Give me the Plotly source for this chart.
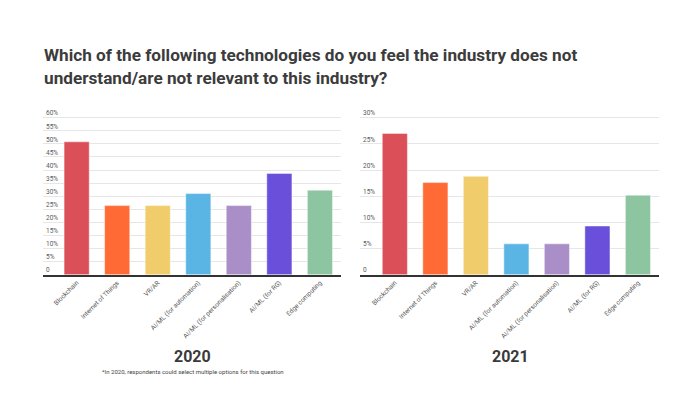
import plotly.graph_objects as go

categories = ["Blockchain", "Internet of Things", "VR/AR", "AI/ML (for automation)",
              "AI/ML (for personalisation)", "AI/ML (for RG)", "Edge computing"]
values_2020 = [50.8, 26.4, 26.4, 31.0, 26.4, 38.7, 32.3]
values_2021 = [27.0, 17.6, 18.8, 5.9, 5.9, 9.3, 15.2]
colors = ["#DB5058", "#FF6A35", "#F0CD6A", "#5BB5E4", "#A98EC8", "#6A4FDB", "#8DC5A1"]
ticks_2020 = list(range(0, 61, 5))
ticks_2021 = list(range(0, 31, 5))
tick_text_2020 = ["0" if t == 0 else f"{t}%" for t in ticks_2020]
tick_text_2021 = ["0" if t == 0 else f"{t}%" for t in ticks_2021]

W, H = 700, 396
FONT = "Roboto, Arial, sans-serif"

fig = go.Figure()
fig.add_trace(go.Bar(x=categories, y=values_2020, marker=dict(color=colors, line=dict(color="rgba(255,255,255,0.45)", width=1)),
                     xaxis="x", yaxis="y", showlegend=False, hoverinfo="x+y"))
fig.add_trace(go.Bar(x=categories, y=values_2021, marker=dict(color=colors, line=dict(color="rgba(255,255,255,0.45)", width=1)),
                     xaxis="x2", yaxis="y2", showlegend=False, hoverinfo="x+y"))

# axis pixel geometry: baseline 274.7, top gridline 117.7 (157 px); extra headroom so the top inside label shows
base_px, top_px = 274.7, 117.7
span = base_px - top_px
ybot = 1 - base_px / H
ytop1 = 1 - (top_px - 4 / 60 * span) / H
ytop2 = 1 - (top_px - 2 / 30 * span) / H

xcommon = dict(tickangle=-45, tickfont=dict(size=6.5, color="#555555", family=FONT),
               showline=True, linecolor="#333333", linewidth=1.5, ticks="", showgrid=False,
               zeroline=False)
ycommon = dict(ticklabelposition="inside top", tickfont=dict(size=6.5, color="#5A5A5A", family=FONT),
               showgrid=True, gridcolor="#E6E6E6", gridwidth=1, zeroline=False, ticks="", showline=False)

fig.update_layout(
    width=W, height=H, margin=dict(l=0, r=0, t=0, b=0),
    paper_bgcolor="white", plot_bgcolor="white",
    bargap=0.38,
    xaxis=dict(domain=[43 / W, 341 / W], range=[-0.83, 6.52], anchor="y", **xcommon),
    yaxis=dict(domain=[ybot, ytop1], range=[0, 64], tickvals=ticks_2020, ticktext=tick_text_2020, anchor="x", **ycommon),
    xaxis2=dict(domain=[360 / W, 659 / W], range=[-0.86, 6.52], anchor="y2", **xcommon),
    yaxis2=dict(domain=[ybot, ytop2], range=[0, 32], tickvals=ticks_2021, ticktext=tick_text_2021, anchor="x2", **ycommon),
    annotations=[
        dict(text="<b>Which of the following technologies do you feel the industry does not</b>",
             xref="paper", yref="paper", x=42 / W, y=1 - 54.5 / H, xanchor="left", yanchor="middle",
             showarrow=False, font=dict(size=17.2, color="#3C3C3C", family=FONT)),
        dict(text="<b>understand/are not relevant to this industry?</b>",
             xref="paper", yref="paper", x=42 / W, y=1 - 78.5 / H, xanchor="left", yanchor="middle",
             showarrow=False, font=dict(size=17.2, color="#3C3C3C", family=FONT)),
        dict(text="<b>2020</b>", xref="paper", yref="paper", x=192.5 / W, y=1 - 356 / H,
             xanchor="center", yanchor="middle", showarrow=False,
             font=dict(size=16, color="#3A3A3A", family=FONT)),
        dict(text="<b>2021</b>", xref="paper", yref="paper", x=510.8 / W, y=1 - 356 / H,
             xanchor="center", yanchor="middle", showarrow=False,
             font=dict(size=16, color="#3A3A3A", family=FONT)),
        dict(text="*In 2020, respondents could select multiple options for this question",
             xref="paper", yref="paper", x=192.5 / W, y=1 - 371 / H,
             xanchor="center", yanchor="middle", showarrow=False,
             font=dict(size=6, color="#444444", family=FONT)),
    ],
)

fig.write_html("out.html", config={"displayModeBar": False},
               post_script="document.body.style.margin='0px';")
